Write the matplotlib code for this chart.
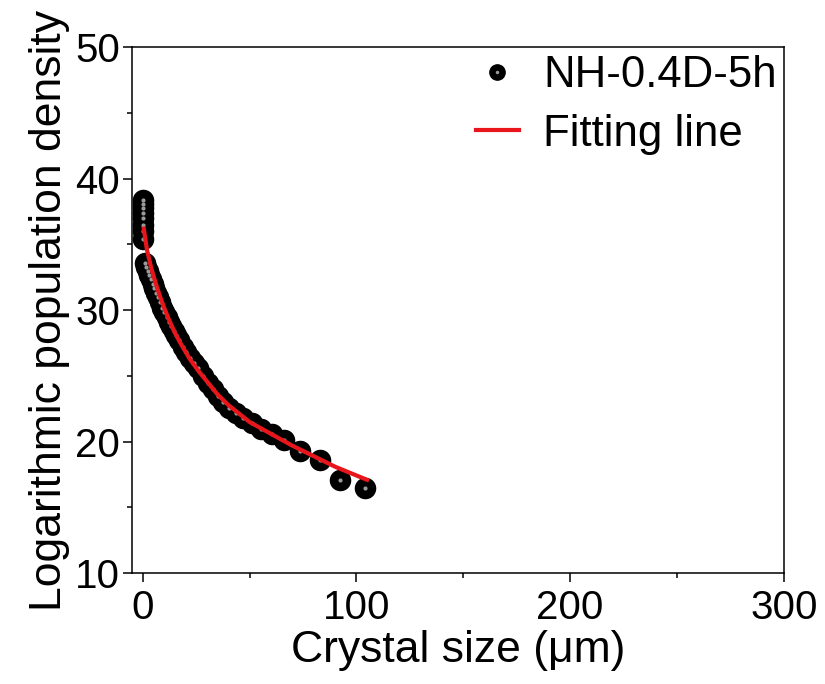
import matplotlib.pyplot as plt
from matplotlib.lines import Line2D
from matplotlib.ticker import MultipleLocator

plt.rcParams['font.family'] = ['Liberation Sans', 'DejaVu Sans']

# measured crystal size distribution (NH-0.4D-5h)
size = [0, 0, 0, 0, 0, 0, 0, 0,
        1.0, 1.6, 2.3, 3.0, 3.8, 4.6, 5.5, 6.4, 7.3, 8.2, 9.2, 10.2, 11.2,
        12.3, 13.4, 14.6, 15.8, 17.2, 18.8, 20.5, 22.2, 24.0, 26.0, 28.2,
        30.5, 32.8, 35.2, 37.8, 40.6, 43.6, 47.0, 51.0, 55.5, 60.5, 66.0,
        73.5, 83.0, 92.5, 104.0]
density = [38.4, 38.1, 37.8, 37.4, 37.0, 36.5, 36.0, 35.4,
           33.6, 33.3, 33.0, 32.7, 32.4, 32.0, 31.7, 31.3, 31.0, 30.6, 30.2,
           29.9, 29.5, 29.1, 28.8, 28.4, 28.1, 27.7, 27.2, 26.8, 26.4, 26.0,
           25.6, 25.0, 24.5, 24.0, 23.5, 23.0, 22.6, 22.2, 21.8, 21.4, 21.0,
           20.6, 20.1, 19.3, 18.6, 17.1, 16.5]

# fitting line
fit_x = [0.5, 2, 4, 6, 8, 10, 12, 15, 18, 22, 26, 30, 35, 40, 50, 60, 70, 80, 90, 105]
fit_y = [36.2, 34.6, 33.2, 32.1, 31.1, 30.2, 29.4, 28.3, 27.4, 26.3, 25.4,
         24.6, 23.6, 22.8, 21.5, 20.6, 19.7, 18.9, 18.1, 17.1]

fig = plt.figure(figsize=(8.25, 6.84), dpi=100)
ax = fig.add_axes([0.160, 0.162, 0.790, 0.769])

ax.plot(size, density, linestyle='none', marker='o', ms=14.5,
        mfc='black', mec='black')
ax.plot(size, density, linestyle='none', marker='o', ms=3,
        mfc='#9a9a9a', mec='none')
ax.plot(fit_x, fit_y, color='#e8161b', lw=3)

ax.set_xlim(-5, 300)
ax.set_ylim(10, 50)
ax.xaxis.set_major_locator(MultipleLocator(100))
ax.xaxis.set_minor_locator(MultipleLocator(50))
ax.yaxis.set_major_locator(MultipleLocator(10))
ax.yaxis.set_minor_locator(MultipleLocator(5))
ax.tick_params(which='both', direction='out', width=1.1, labelsize=29)
ax.tick_params(which='major', length=6.5)
ax.tick_params(which='minor', length=3.5)
ax.tick_params(axis='x', pad=5)
ax.tick_params(axis='y', pad=2)
for s in ax.spines.values():
    s.set_linewidth(1.1)

ax.set_xlabel('Crystal size (μm)', fontsize=32, labelpad=2)
ax.set_ylabel('Logarithmic population density', fontsize=32, labelpad=4)

h_pts = (Line2D([], [], ls='none', marker='o', ms=11, mfc='black', mec='black'),
         Line2D([], [], ls='none', marker='o', ms=2.5, mfc='#9a9a9a', mec='none'))
h_fit = Line2D([], [], color='#e8161b', lw=3)
ax.legend([h_pts, h_fit], ['NH-0.4D-5h', 'Fitting line'], loc='upper right',
          bbox_to_anchor=(1.05, 1.06), frameon=False, fontsize=31.5,
          handlelength=1.0, handletextpad=0.55, labelspacing=0.4)

fig.savefig('out.png', dpi=100)
